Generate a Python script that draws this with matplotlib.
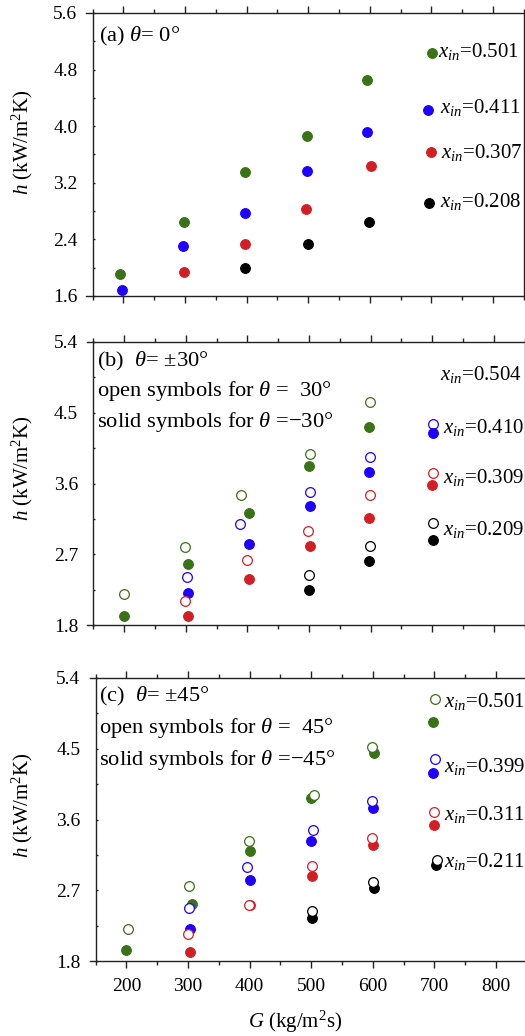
import matplotlib
matplotlib.use('Agg')
import matplotlib.pyplot as plt
import matplotlib.transforms as mtransforms
from matplotlib.lines import Line2D
from matplotlib.ticker import MultipleLocator

plt.rcParams['font.family'] = ['Liberation Serif', 'DejaVu Serif']
plt.rcParams['mathtext.fontset'] = 'custom'
plt.rcParams['mathtext.rm'] = 'Liberation Serif'
plt.rcParams['mathtext.it'] = 'Liberation Serif:italic'
plt.rcParams['mathtext.bf'] = 'Liberation Serif:bold'

GREEN = '#3a7317'
BLUE = '#1e00ff'
RED = '#d21f26'
BLACK = '#000000'

# ---------------- data ----------------
# Panel (a): theta = 0 deg
a_G_501 = [195, 299, 398, 498, 596]
a_h_501 = [1.91, 2.64, 3.35, 3.86, 4.65]
a_G_411 = [198, 297, 398, 498, 596]
a_h_411 = [1.69, 2.30, 2.78, 3.36, 3.92]
a_G_307 = [299, 398, 497, 602]
a_h_307 = [1.94, 2.34, 2.83, 3.44]
a_G_208 = [397, 499, 598]
a_h_208 = [2.00, 2.34, 2.65]

# Panel (b): open = +30 deg, solid = -30 deg
b_G_504_open = [200, 299, 389, 502, 599]
b_h_504_open = [2.19, 2.79, 3.45, 3.97, 4.64]
b_G_504_solid = [200, 303, 402, 500, 598]
b_h_504_solid = [1.92, 2.57, 3.23, 3.82, 4.32]
b_G_410_open = [302, 388, 502, 599]
b_h_410_open = [2.41, 3.09, 3.49, 3.94]
b_G_410_solid = [303, 403, 501, 598]
b_h_410_solid = [2.21, 2.83, 3.32, 3.75]
b_G_309_open = [298, 399, 499, 599]
b_h_309_open = [2.11, 2.63, 3.00, 3.45]
b_G_309_solid = [303, 402, 501, 598]
b_h_309_solid = [1.92, 2.39, 2.81, 3.16]
b_G_209_open = [500, 599]
b_h_209_open = [2.44, 2.81]
b_G_209_solid = [500, 598]
b_h_209_solid = [2.25, 2.62]

# Panel (c): open = +45 deg, solid = -45 deg
c_G_501_open = [202, 301, 399, 504, 598]
c_h_501_open = [2.21, 2.75, 3.33, 3.91, 4.52]
c_G_501_solid = [199, 306, 401, 500, 602]
c_h_501_solid = [1.94, 2.53, 3.20, 3.87, 4.45]
c_G_399_open = [301, 396, 503, 598]
c_h_399_open = [2.47, 3.00, 3.47, 3.84]
c_G_399_solid = [303, 400, 500, 600]
c_h_399_solid = [2.21, 2.83, 3.33, 3.75]
c_G_311_open = [300, 399, 502, 598]
c_h_311_open = [2.14, 2.51, 3.01, 3.36]
c_G_311_solid = [303, 400, 502, 601]
c_h_311_solid = [1.91, 2.51, 2.88, 3.27]
c_G_211_open = [502, 600]
c_h_211_open = [2.44, 2.81]
c_G_211_solid = [501, 602]
c_h_211_solid = [2.35, 2.73]

x_ticks = [200, 300, 400, 500, 600, 700, 800]
a_y_ticks = [1.6, 2.4, 3.2, 4.0, 4.8, 5.6]
bc_y_ticks = [1.8, 2.7, 3.6, 4.5, 5.4]

# ---------------- figure ----------------
W, H = 525, 1036
fig = plt.figure(figsize=(W / 100, H / 100), dpi=100)
PIX = mtransforms.Affine2D().scale(1 / W, -1 / H).translate(0, 1) + fig.transFigure

def make_ax(left_px, top_px, bottom_px):
    width_px = 437.3
    ax = fig.add_axes([left_px / W, (H - bottom_px) / H, width_px / W, (bottom_px - top_px) / H])
    ax.set_xlim(140, 850)
    ax.spines['left'].set_position(('data', 150))
    for s in ax.spines.values():
        s.set_linewidth(1.0)
        s.set_color('#222222')
    ax.xaxis.set_major_locator(MultipleLocator(100))
    ax.xaxis.set_minor_locator(MultipleLocator(50))
    ax.tick_params(axis='both', which='major', direction='out', length=5, width=1.0,
                   labelsize=14, color='#222222')
    ax.tick_params(axis='both', which='minor', direction='out', length=3, width=1.0,
                   color='#222222')
    ax.tick_params(axis='y', which='major', pad=11)
    ax.tick_params(axis='x', which='major', pad=7)
    ax.tick_params(top=True, which='both', direction='in', length=1.5)
    ax.tick_params(top=True, which='both', labeltop=False)
    ax.tick_params(axis='x', which='major', direction='out', length=5, bottom=True)
    ax.tick_params(axis='x', which='minor', direction='out', length=3, bottom=True)
    return ax

FS = 7.0
OS = 7.0

def solid(ax, G, h, c):
    ax.plot(G, h, 'o', ms=FS, color=c, mec=c, mew=0.8, clip_on=False, zorder=3)

def opn(ax, G, h, c):
    ax.plot(G, h, 'o', ms=OS, mfc='white', mec=c, mew=0.9, clip_on=False, zorder=4)

def leg_marker(x, y, c, filled):
    if filled:
        ln = Line2D([x], [y], marker='o', ms=FS, color=c, mec=c, mew=0.8, transform=PIX)
    else:
        ln = Line2D([x], [y], marker='o', ms=OS, mfc='white', mec=c, mew=0.9, transform=PIX)
    fig.add_artist(ln)

def ptext(x, y, s, size=16.2, **kw):
    fig.text(x, y, s, transform=PIX, fontsize=size, va='baseline', ha='left', **kw)

LS = 15.0
ylabel = r'$h$ (kW/m$^2$K)'

# ---- panel (a)
axa = make_ax(86.5, 13, 296)
axa.set_ylim(1.6, 5.6)
axa.set_yticks(a_y_ticks)
axa.yaxis.set_minor_locator(MultipleLocator(0.4))
axa.set_yticklabels([f'{v:.1f}' for v in a_y_ticks])
axa.set_xticks(x_ticks)
axa.tick_params(axis='x', labelbottom=False)
solid(axa, a_G_501, a_h_501, GREEN)
solid(axa, a_G_411, a_h_411, BLUE)
solid(axa, a_G_307, a_h_307, RED)
solid(axa, a_G_208, a_h_208, BLACK)
ptext(99, 41.7, r'(a) $\theta$= 0°')
leg_marker(432.3, 52.7, GREEN, True)
leg_marker(428.3, 110, BLUE, True)
leg_marker(430.7, 151.7, RED, True)
leg_marker(429.3, 203.3, BLACK, True)
ptext(438.5, 56.7, r'$x_{in}$=0.501', size=LS)
ptext(439.5, 113.3, r'$x_{in}$=0.411', size=LS)
ptext(441, 158, r'$x_{in}$=0.307', size=LS)
ptext(439.5, 206.7, r'$x_{in}$=0.208', size=LS)
fig.text(22, 142, ylabel, transform=PIX, rotation=90, fontsize=15, ha='center', va='center')

# ---- panel (b)
axb = make_ax(87.3, 342, 625)
axb.set_ylim(1.8, 5.4)
axb.set_yticks(bc_y_ticks)
axb.yaxis.set_minor_locator(MultipleLocator(0.45))
axb.set_yticklabels([f'{v:.1f}' for v in bc_y_ticks])
axb.set_xticks(x_ticks)
axb.tick_params(axis='x', labelbottom=False)
solid(axb, b_G_504_solid, b_h_504_solid, GREEN)
solid(axb, b_G_410_solid, b_h_410_solid, BLUE)
solid(axb, b_G_309_solid, b_h_309_solid, RED)
solid(axb, b_G_209_solid, b_h_209_solid, BLACK)
opn(axb, b_G_504_open, b_h_504_open, GREEN)
opn(axb, b_G_410_open, b_h_410_open, BLUE)
opn(axb, b_G_309_open, b_h_309_open, RED)
opn(axb, b_G_209_open, b_h_209_open, BLACK)
ptext(97.3, 366.7, r'(b)  $\theta$= ±30°')
ptext(97.3, 396, r'open symbols for $\theta$ =  30°')
ptext(97.3, 426.7, r'solid symbols for $\theta$ =−30°')
leg_marker(432.7, 424, BLUE, False)
leg_marker(432.7, 433.3, BLUE, True)
leg_marker(433.3, 472.7, RED, False)
leg_marker(432, 485.3, RED, True)
leg_marker(433.3, 523.3, BLACK, False)
leg_marker(433.3, 540, BLACK, True)
ptext(440, 380, r'$x_{in}$=0.504', size=LS)
ptext(443.3, 432.7, r'$x_{in}$=0.410', size=LS)
ptext(443.3, 483.3, r'$x_{in}$=0.309', size=LS)
ptext(443.3, 535, r'$x_{in}$=0.209', size=LS)
fig.text(22.5, 468, ylabel, transform=PIX, rotation=90, fontsize=15, ha='center', va='center')

# ---- panel (c)
axc = make_ax(89.5, 678, 961)
axc.set_ylim(1.8, 5.4)
axc.set_yticks(bc_y_ticks)
axc.yaxis.set_minor_locator(MultipleLocator(0.45))
axc.set_yticklabels([f'{v:.1f}' for v in bc_y_ticks])
axc.set_xticks(x_ticks)
axc.set_xticklabels([str(v) for v in x_ticks])
solid(axc, c_G_501_solid, c_h_501_solid, GREEN)
solid(axc, c_G_399_solid, c_h_399_solid, BLUE)
solid(axc, c_G_311_solid, c_h_311_solid, RED)
solid(axc, c_G_211_solid, c_h_211_solid, BLACK)
opn(axc, c_G_501_open, c_h_501_open, GREEN)
opn(axc, c_G_399_open, c_h_399_open, BLUE)
opn(axc, c_G_311_open, c_h_311_open, RED)
opn(axc, c_G_211_open, c_h_211_open, BLACK)
ptext(99.3, 701.7, r'(c)  $\theta$= ±45°')
ptext(99.3, 733.3, r'open symbols for $\theta$ =  45°')
ptext(99.3, 765, r'solid symbols for $\theta$ =−45°')
leg_marker(433.3, 722.3, GREEN, True)
leg_marker(435, 699.3, GREEN, False)
leg_marker(432.7, 773.3, BLUE, True)
leg_marker(435.3, 758.7, BLUE, False)
leg_marker(434, 824.7, RED, True)
leg_marker(434, 811.7, RED, False)
leg_marker(436, 865, BLACK, True)
leg_marker(436.7, 860, BLACK, False)
ptext(444, 706.7, r'$x_{in}$=0.501', size=LS)
ptext(444, 771.7, r'$x_{in}$=0.399', size=LS)
ptext(444, 820, r'$x_{in}$=0.311', size=LS)
ptext(444, 866.7, r'$x_{in}$=0.211', size=LS)
fig.text(22.5, 805, ylabel, transform=PIX, rotation=90, fontsize=15, ha='center', va='center')
fig.text(295, 1021.7, r'$G$ (kg/m$^2$s)', transform=PIX, fontsize=15, ha='center', va='center')

fig.savefig('out.png', dpi=100)
